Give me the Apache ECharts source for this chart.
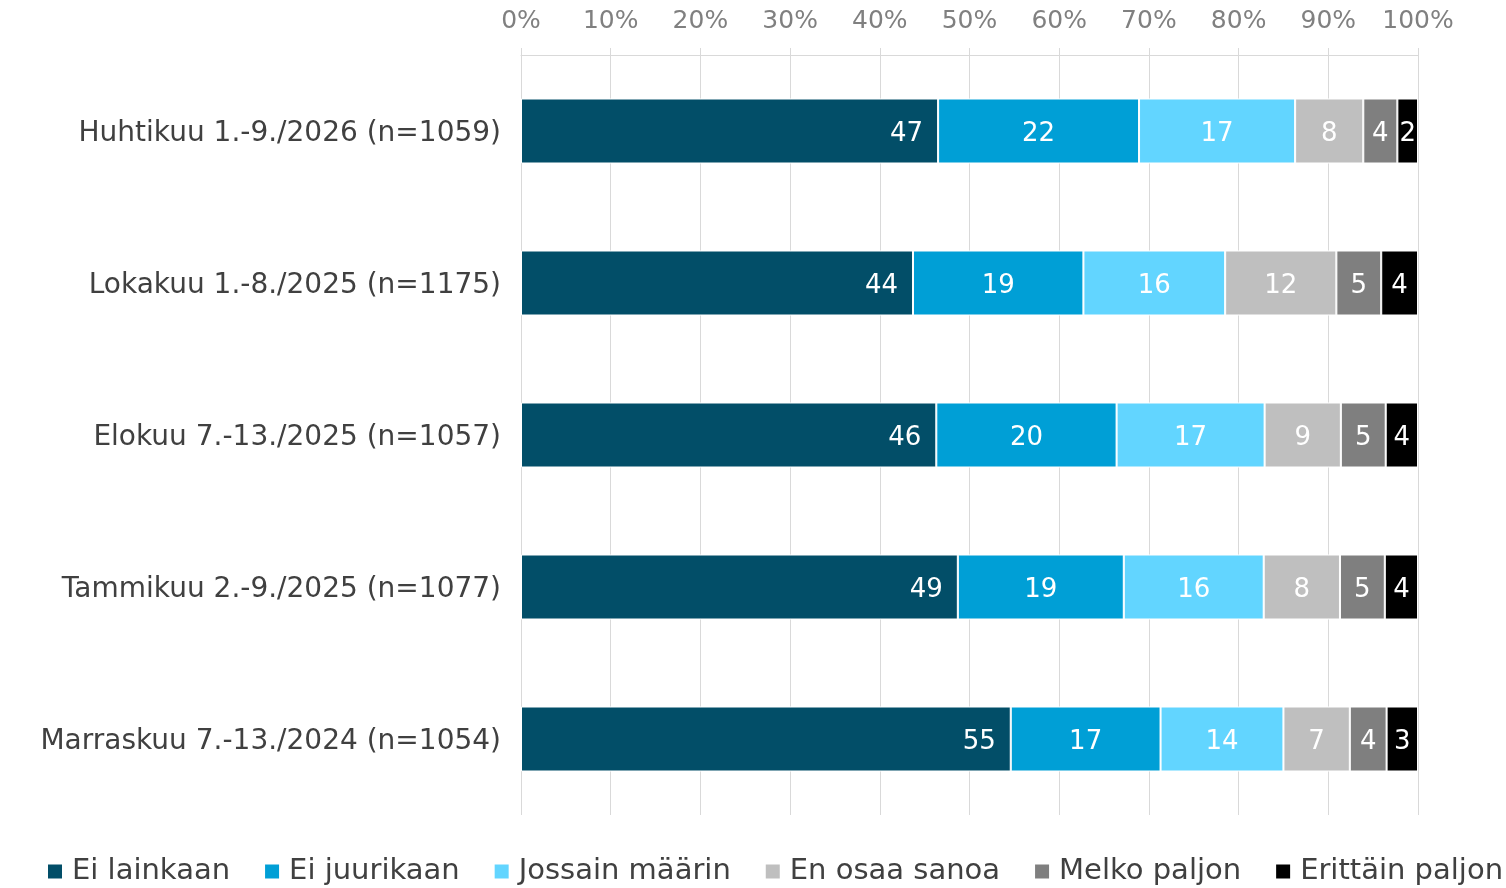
<!DOCTYPE html>
<html>
<head>
<meta charset="utf-8">
<script src="https://cdn.jsdelivr.net/npm/echarts@6/dist/echarts.min.js"></script>
<style>
  html, body { margin: 0; padding: 0; background: #fff; }
  #chart { width: 1506px; height: 888px; }
</style>
</head>
<body>
<div id="chart"></div>
<script>
// kategoriat (ylhäältä alas)
const categories = [
  'Huhtikuu 1.-9./2026 (n=1059)',
  'Lokakuu 1.-8./2025 (n=1175)',
  'Elokuu 7.-13./2025 (n=1057)',
  'Tammikuu 2.-9./2025 (n=1077)',
  'Marraskuu 7.-13./2024 (n=1054)'
];
const seriesNames = ['Ei lainkaan', 'Ei juurikaan', 'Jossain määrin', 'En osaa sanoa', 'Melko paljon', 'Erittäin paljon'];
const colors = ['#024E68', '#009FD6', '#62D5FF', '#BFBFBF', '#7F7F7F', '#000000'];

// osuudet (%), luettu palkkien leveyksistä
const eiLainkaan     = [46.5, 43.7, 46.3, 48.7, 54.6];
const eiJuurikaan    = [22.4, 19.0, 20.1, 18.5, 16.7];
const jossainMaarin  = [17.4, 15.8, 16.5, 15.6, 13.7];
const enOsaaSanoa    = [7.6, 12.4, 8.5, 8.5, 7.4];
const melkoPaljon    = [3.8, 5.0, 5.0, 5.0, 4.1];
const erittainPaljon = [2.3, 4.1, 3.6, 3.7, 3.5];

// näytetyt arvot
const lblEiLainkaan     = [47, 44, 46, 49, 55];
const lblEiJuurikaan    = [22, 19, 20, 19, 17];
const lblJossainMaarin  = [17, 16, 17, 16, 14];
const lblEnOsaaSanoa    = [8, 12, 9, 8, 7];
const lblMelkoPaljon    = [4, 5, 5, 5, 4];
const lblErittainPaljon = [2, 4, 4, 4, 3];

const xTicks = [0, 10, 20, 30, 40, 50, 60, 70, 80, 90, 100];

const values = [eiLainkaan, eiJuurikaan, jossainMaarin, enOsaaSanoa, melkoPaljon, erittainPaljon];
const labels = [lblEiLainkaan, lblEiJuurikaan, lblJossainMaarin, lblEnOsaaSanoa, lblMelkoPaljon, lblErittainPaljon];

const font = 'DejaVu Sans';
let myChart = echarts.init(document.getElementById('chart'));

myChart.setOption({
  animation: false,
  textStyle: { fontFamily: font },
  color: colors,
  grid: { left: 521, right: 88, top: 55, bottom: 73 },
  legend: {
    bottom: 2,
    left: 46,
    width: 1480,
    padding: 0,
    itemWidth: 16,
    itemHeight: 16,
    itemGap: 33,
    icon: 'rect',
    textStyle: { fontFamily: font, fontSize: 29, color: '#404040', padding: [0, 0, 0, 4] },
    data: seriesNames
  },
  xAxis: {
    type: 'value',
    position: 'top',
    min: xTicks[0],
    max: xTicks[xTicks.length - 1],
    interval: 10,
    axisLine: { show: true, lineStyle: { color: '#d9d9d9', width: 1 } },
    axisTick: { show: true, length: 7, lineStyle: { color: '#d9d9d9' } },
    splitLine: { show: true, lineStyle: { color: '#d9d9d9', width: 1 } },
    axisLabel: {
      formatter: '{value}%',
      fontFamily: font,
      fontSize: 25,
      color: '#808080',
      margin: 21
    }
  },
  yAxis: {
    type: 'category',
    inverse: true,
    data: categories,
    axisLine: { show: false },
    axisTick: { show: false },
    axisLabel: {
      fontFamily: font, fontSize: 28, color: '#404040', margin: 20,
      verticalAlign: 'top', lineHeight: 6
    }
  },
  series: seriesNames.map((name, i) => ({
    name: name,
    type: 'bar',
    stack: 'total',
    barWidth: 65,
    itemStyle: { color: colors[i], borderColor: '#ffffff', borderWidth: 1 },
    label: {
      show: true,
      position: i === 0 ? 'insideRight' : 'inside',
      distance: 15,
      offset: [0, 3],
      color: '#ffffff',
      fontFamily: font,
      fontSize: 26,
      formatter: p => labels[i][p.dataIndex]
    },
    data: values[i]
  }))
});
</script>
</body>
</html>
